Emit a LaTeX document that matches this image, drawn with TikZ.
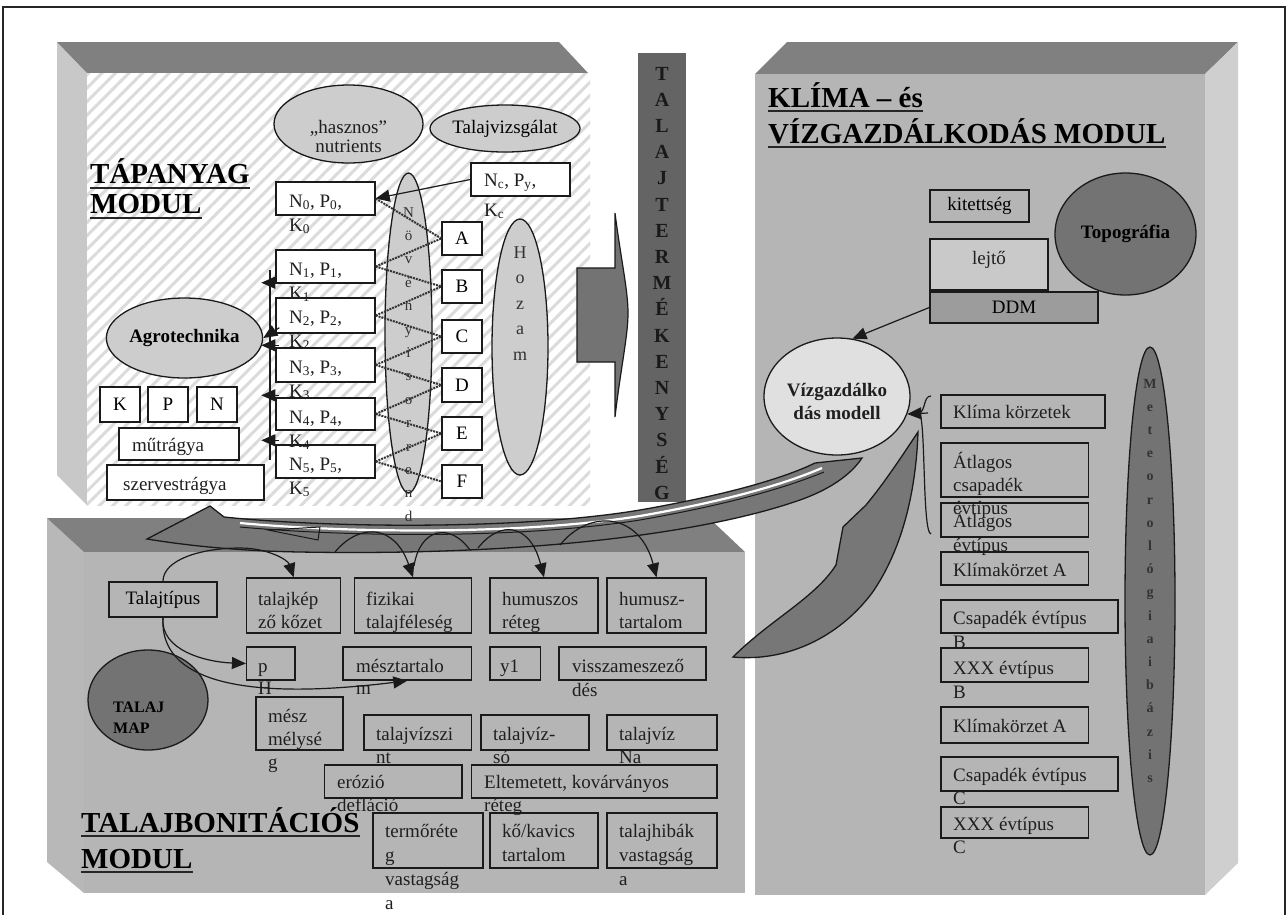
\documentclass[tikz,border=0pt]{standalone}
\usepackage{fontspec}
\setmainfont{Liberation Serif}
\usetikzlibrary{arrows.meta,calc,patterns.meta,shapes.geometric}

\definecolor{topc}{HTML}{808080}
\definecolor{sidec}{HTML}{C8C8C8}
\definecolor{rsidec}{HTML}{CFCFCF}
\definecolor{frontc}{HTML}{B5B5B5}
\definecolor{darkc}{HTML}{737373}
\definecolor{barc}{HTML}{646464}
\definecolor{ellc}{HTML}{CDCDCD}
\definecolor{linec}{HTML}{1A1A1A}
\definecolor{swc}{HTML}{777777}

\newcommand\mkbox[7][]{\node[rbox,#1,minimum width={#5-#3},minimum height={#6-#4}] (#2) at ({(#3+#5)/2},{(#4+#6)/2}) {#7};}
\newcommand\tx[4][]{\node[txt,#1] at (#2,#3) {#4};}

\begin{document}
\begin{tikzpicture}[x=1pt,y=-1pt,
  rbox/.style={draw=linec,line width=1.4pt,inner sep=0pt,font=\fontsize{19}{22}\selectfont},
  txt/.style={anchor=base west,inner sep=0pt,font=\fontsize{19}{22}\selectfont,text=black!88},
  ctx/.style={txt,anchor=base},
  btx/.style={ctx,font=\fontsize{19}{22}\selectfont\bfseries},
  ttl/.style={anchor=base west,inner sep=0pt,font=\fontsize{29}{34}\selectfont\bfseries},
  ell/.style={ellipse,draw=linec,line width=1.3pt,inner sep=0pt,font=\fontsize{19}{22}\selectfont},
  arr/.style={-{Triangle[length=14pt,width=12pt]},line width=1.2pt,draw=linec},
  dotl/.style={densely dotted,line width=2pt,draw=black!80},
  thinl/.style={line width=1.2pt,draw=linec},
  ulin/.style={line width=2.5pt,draw=black!85},
  lt/.style={anchor=base,inner sep=0pt,font=\fontsize{15}{15}\selectfont,text=black!80}
]
\useasboundingbox (0,0) rectangle (1288,914);
\fill[white] (0,0) rectangle (1288,914);

% outer frame
\draw[line width=2.5pt,black!85] (3,918) -- (3,7) -- (1285,7) -- (1285,918);

% ================= TAPANYAG MODULE (box) =================
\fill[sidec] (57,42) -- (87,73) -- (87,505) -- (57,475) -- cycle;
\fill[topc] (57,42) -- (559,42) -- (588,73) -- (87,73) -- cycle;
\fill[white] (87,73) rectangle (590,505);
\fill[pattern={Lines[angle=45,distance=9.5pt,line width=3pt]},pattern color=black!14] (87,73) rectangle (590,505);

% ================= TALAJBONITACIOS MODULE (box) =================
\fill[sidec!92!black] (47,518) -- (84,552) -- (84,893) -- (47,862) -- cycle;
\fill[topc] (47,518) -- (709,518) -- (745,552) -- (84,552) -- cycle;
\fill[frontc] (84,552) rectangle (745,893);

% ================= KLIMA MODULE (box) =================
\fill[topc] (787,42) -- (1238,42) -- (1205,74) -- (755,74) -- cycle;
\fill[rsidec] (1205,74) -- (1238,42) -- (1238,863) -- (1205,895) -- cycle;
\fill[frontc] (755,74) rectangle (1205,895);

% ================= TALAJTERMEKENYSEG bar =================
\node[fill=barc,minimum width=48,minimum height=449,inner sep=0pt] (bar) at (662,277.5) {};
\foreach \l [count=\i from 0] in {T,A,L,A,J,T,E,R,M,É,K,E,N,Y,S,É,G}
  \node[anchor=base,inner sep=0pt,font=\fontsize{20}{20}\selectfont\bfseries,text=black!90] at (662,{80+26.2*\i}) {\l};

% block arrow
\filldraw[fill=darkc,draw=linec,line width=1.2pt] (577,268) -- (615,268) -- (615,213)
  .. controls (621,260) and (628,290) .. (628,313)
  .. controls (628,336) and (621,366) .. (615,417) -- (615,362) -- (577,362) -- cycle;

% ================= TAPANYAG content =================
\node[ttl] (t1a) at (90,183) {TÁPANYAG};
\node[ttl] (t1b) at (90,213) {MODUL};
\draw[ulin] ($(t1a.base west)+(0,5)$) -- ($(t1a.base east)+(0,5)$);
\draw[ulin] ($(t1b.base west)+(0,5)$) -- ($(t1b.base east)+(0,5)$);

\node[ell,fill=ellc,minimum width=149,minimum height=78] (hasz) at (348.5,124) {};
\tx[ctx]{348.5}{133}{„hasznos”}
\tx[ctx]{348.5}{152}{nutrients}
\node[ell,fill=ellc,minimum width=150,minimum height=47] (tvizs) at (505,128.5) {Talajvizsgálat};

\mkbox[fill=white]{N0}{276}{182}{375}{215}{}
\mkbox[fill=white]{Nc}{471}{163}{570}{196}{}
\mkbox[fill=white]{N1}{276}{250}{375}{283}{}
\mkbox[fill=white]{N2}{276}{298}{375}{333}{}
\mkbox[fill=white]{N3}{276}{348}{375}{382}{}
\mkbox[fill=white]{N4}{276}{398}{375}{430}{}
\mkbox[fill=white]{N5}{276}{445}{375}{478}{}
\tx{289}{207}{N\textsubscript{0}, P\textsubscript{0},}
\tx{289}{231}{K\textsubscript{0}}
\tx{484}{186}{N\textsubscript{c}, P\textsubscript{y},}
\tx{484}{216}{K\textsubscript{c}}
\tx{289}{275}{N\textsubscript{1}, P\textsubscript{1},}
\tx{289}{299}{K\textsubscript{1}}
\tx{289}{323}{N\textsubscript{2}, P\textsubscript{2},}
\tx{289}{347}{K\textsubscript{2}}
\tx{289}{373}{N\textsubscript{3}, P\textsubscript{3},}
\tx{289}{397}{K\textsubscript{3}}
\tx{289}{423}{N\textsubscript{4}, P\textsubscript{4},}
\tx{289}{447}{K\textsubscript{4}}
\tx{289}{470}{N\textsubscript{5}, P\textsubscript{5},}
\tx{289}{494}{K\textsubscript{5}}

% Novenyi sorrend ellipse
\node[ell,fill=ellc,minimum width=47,minimum height=320] (novs) at (408.5,333) {};
\foreach \l [count=\i from 0] in {N,ö,v,é,n,y,i,s,o,r,r,e,n,d}
  \node[lt] at (408.5,{217+23.4*\i}) {\l};

% A-F boxes
\mkbox[fill=white]{A}{442}{222}{482}{255}{A}
\mkbox[fill=white]{B}{442}{270}{482}{303}{B}
\mkbox[fill=white]{C}{442}{320}{482}{353}{C}
\mkbox[fill=white]{D}{442}{368}{482}{402}{D}
\mkbox[fill=white]{E}{442}{417}{482}{450}{E}
\mkbox[fill=white]{F}{442}{465}{482}{498}{F}

% Hozam
\node[ell,fill=ellc,minimum width=56,minimum height=256] (hozam) at (520,347) {};
\foreach \l [count=\i from 0] in {H,o,z,a,m}
  \node[anchor=base,inner sep=0pt,font=\fontsize{18}{18}\selectfont,text=black!80] at (520,{258+25.5*\i}) {\l};

% connectors
\draw[arr] (Nc.west) -- (N0.east);
\foreach \a/\b in {N0/A,N1/A,N1/B,N2/B,N2/C,N3/C,N3/D,N4/D,N4/E,N5/E,N5/F}
  \draw[dotl] (\a.east) -- (\b.west);

% Agrotechnika
\node[ell,fill=ellc,minimum width=155,minimum height=80,font=\fontsize{19}{22}\selectfont\bfseries] (agro) at (184.5,338) {Agrotechnika};
\draw[thinl] (270,270) -- (270,460);
\draw[arr] ($(N1.south west)+(4,-1)$) -- ++(-18,0);
\draw[arr] ($(N2.south west)+(4,-6)$) -- (agro.east);
\draw[arr] ($(N3.north west)+(4,-2)$) -- ++(-18,0);
\draw[arr] ($(N4.north west)+(4,-2)$) -- ++(-18,0);
\draw[arr] ($(N5.north west)+(4,-4)$) -- ++(-18,0);

% K P N, mutragya, szervestragya
\mkbox[fill=white]{bK}{100}{387}{140}{422}{K}
\mkbox[fill=white]{bP}{148}{387}{188}{422}{P}
\mkbox[fill=white]{bN}{197}{387}{237}{422}{N}
\mkbox[fill=white]{mut}{119}{428}{239}{460}{}
\tx{132}{451}{műtrágya}
\mkbox[fill=white]{szerv}{107}{465}{264}{500}{}
\tx{123}{490}{szervestrágya}

% ================= KLIMA content =================
\node[ttl] (t3a) at (768,107) {KLÍMA – és};
\node[ttl] (t3b) at (768,143) {VÍZGAZDÁLKODÁS MODUL};
\draw[ulin] ($(t3a.base west)+(0,4)$) -- ($(t3a.base east)+(0,4)$);
\draw[ulin] ($(t3b.base west)+(0,4)$) -- ($(t3b.base east)+(0,4)$);

\mkbox{kit}{930}{190}{1029}{222}{kitettség}
\mkbox[fill=black!21]{lejto}{930}{239}{1048}{290}{}
\tx[ctx]{989}{264}{lejtő}
\mkbox[fill=black!39]{DDM}{930}{292}{1098}{323}{DDM}
\node[ell,fill=darkc,minimum width=141,minimum height=122,font=\fontsize{19}{22}\selectfont\bfseries] (topo) at (1125.5,234) {Topográfia};

\node[ell,fill=black!12,minimum width=146,minimum height=117] (viz) at (837,396.5) {};
\tx[btx]{837}{396}{Vízgazdálko}
\tx[btx]{837}{419}{dás modell}
\draw[arr] (DDM.west) -- (viz.75);

% brace
\draw[thinl] (931,396) .. controls (923,396) and (926,411) .. (919,413)
  .. controls (926,416) and (922,533) .. (931,534);
\coordinate (bt) at (928,413);
\draw[arr] (bt) -- (viz.-14);

\mkbox{kk}{941}{395}{1105}{428}{}
\tx{953}{418}{Klíma körzetek}
\mkbox{ac}{941}{443}{1088.5}{497}{}
\tx{953}{468}{Átlagos}
\tx{953}{491}{csapadék}
\tx{953}{514}{évtípus}
\mkbox{ae}{941}{503}{1088.5}{537}{}
\tx{953}{527}{Átlagos}
\tx{953}{551}{évtípus}
\mkbox{ka1}{941}{552}{1088.5}{585}{}
\tx{953}{576}{Klímakörzet A}
\mkbox{cb}{941}{600}{1118}{633}{}
\tx{953}{624}{Csapadék évtípus}
\tx{953}{648}{B}
\mkbox{xb}{941}{648}{1088.5}{682}{}
\tx{953}{674}{XXX évtípus}
\tx{953}{698}{B}
\mkbox{ka2}{941}{707}{1088.5}{743}{}
\tx{953}{732}{Klímakörzet A}
\mkbox{cc}{941}{757}{1118}{791}{}
\tx{953}{781}{Csapadék évtípus}
\tx{953}{804}{C}
\mkbox{xc}{941}{807}{1088.5}{838}{}
\tx{953}{830}{XXX évtípus}
\tx{953}{853}{C}

\node[ell,fill=darkc,minimum width=50,minimum height=508] (met) at (1150,601) {};
\foreach \l [count=\i from 0] in {M,e,t,e,o,r,o,l,ó,g,i,a,i,b,á,z,i,s}
  \node[anchor=base,inner sep=0pt,font=\fontsize{14}{14}\selectfont\bfseries,text=black!80] at (1150,{388+23.2*\i}) {\l};

% ================= TALAJBONITACIOS content =================
\node[ttl] (t2a) at (81,832) {TALAJBONITÁCIÓS};
\node[ttl] (t2b) at (81,868) {MODUL};
\draw[ulin] ($(t2a.base west)+(0,4)$) -- ($(t2a.base east)+(0,4)$);
\draw[ulin] ($(t2b.base west)+(0,4)$) -- ($(t2b.base east)+(0,4)$);

\mkbox{tt}{109}{582}{217}{617}{Talajtípus}
\mkbox{tk}{246.6}{578}{340.7}{633}{}
\tx{258}{605}{talajkép}
\tx{258}{628}{ző kőzet}
\mkbox{fiz}{354.5}{578}{471.6}{633}{}
\tx{366}{605}{fizikai}
\tx{366}{628}{talajféleség}
\mkbox{hum}{490}{578}{598}{633}{}
\tx{502}{605}{humuszos}
\tx{502}{628}{réteg}
\mkbox{humt}{607}{578}{706}{633}{}
\tx{619}{605}{humusz-}
\tx{619}{628}{tartalom}

\mkbox{pH}{246.6}{647}{294.8}{680}{}
\tx{258}{672}{p}
\tx{258}{694}{H}
\mkbox{mesz}{343}{647}{471.6}{680}{}
\tx{356}{672}{mésztartalo}
\tx{356}{694}{m}
\mkbox{y1}{490}{647}{540.5}{680}{}
\tx{500}{672}{y1}
\mkbox{vissza}{559}{647}{706}{680}{}
\tx{572}{672}{visszameszező}
\tx{572}{696}{dés}

\node[ell,fill=darkc,minimum width=120,minimum height=100] (tmap) at (148,700) {};
\node[anchor=base west,inner sep=0pt,font=\fontsize{16}{16}\selectfont\bfseries] at (113,712) {TALAJ};
\node[anchor=base west,inner sep=0pt,font=\fontsize{16}{16}\selectfont\bfseries] at (113,733) {MAP};

\mkbox{meszm}{256}{697}{343}{750}{}
\tx{268}{722}{mész}
\tx{268}{745}{mélysé}
\tx{268}{768}{g}
\mkbox{tvsz}{364}{715}{471.6}{750}{}
\tx{376}{740}{talajvízszi}
\tx{376}{763}{nt}
\mkbox{tvso}{481}{715}{589}{750}{}
\tx{493}{740}{talajvíz-}
\tx{493}{763}{só}
\mkbox{tvna}{607}{715}{717}{750}{}
\tx{619}{740}{talajvíz}
\tx{619}{763}{Na}

\mkbox{eroz}{324.7}{765}{462}{798}{}
\tx{337}{788}{erózió}
\tx{337}{811}{defláció}
\mkbox{eltem}{471.6}{765}{717}{798}{}
\tx{484}{788}{Eltemetett, kovárványos}
\tx{484}{811}{réteg}

\mkbox{termo}{373}{813}{483}{868}{}
\tx{385}{837}{termőréte}
\tx{385}{861}{g}
\tx{385}{885}{vastagság}
\tx{385}{909}{a}
\mkbox{kokav}{490}{813}{598}{868}{}
\tx{502}{837}{kő/kavics}
\tx{502}{861}{tartalom}
\mkbox{hiba}{607}{813}{717}{868}{}
\tx{619}{837}{talajhibák}
\tx{619}{861}{vastagság}
\tx{619}{885}{a}

% connectors from Talajtipus
\draw[arr] (tt.south) .. controls (160,650) and (205,662) .. (pH.west);
\draw[arr] (tt.south) .. controls (158,700) and (300,694) .. (mesz.south);

% ================= big swooshes =================
\filldraw[fill=swc,draw=linec,line width=1.3pt]
  (147,539) -- (210,506) -- (224,517)
  .. controls (330,528) and (520,530) .. (640,510)
  .. controls (720,496) and (780,480) .. (815,463)
  -- (862,458)
  .. controls (850,476) and (828,490) .. (800,500)
  .. controls (700,535) and (520,556) .. (300,552)
  .. controls (240,551) and (190,546) .. (147,539) -- cycle;
\draw[white,line width=2.2pt] (240,523) .. controls (350,533) and (520,535) .. (640,516)
  .. controls (720,502) and (780,486) .. (822,468);
\draw[linec,line width=1pt] (240,527) .. controls (350,537) and (520,539) .. (640,520)
  .. controls (720,506) and (780,490) .. (824,472);
\draw[linec,line width=1pt] (268,530) -- (320,527) -- (318,540) -- cycle;

\filldraw[fill=swc,draw=linec,line width=1.3pt]
  (733,657) .. controls (770,620) and (815,598) .. (836,565)
  -- (843,527) -- (866,505)
  .. controls (885,482) and (902,456) .. (918,432)
  .. controls (916,492) and (902,550) .. (872,593)
  .. controls (838,638) and (786,662) .. (733,657) -- cycle;

% arcs into the soil boxes
\draw[arr] (tt.north) .. controls (163,560) and (200,548) .. (240,548)
  .. controls (268,548) and (288,560) .. (tk.north);
\draw[arr] (335,552) .. controls (360,522) and (395,525) .. (fiz.north);
\draw[thinl] (470,550) .. controls (450,522) and (420,528) .. (414,566);
\draw[arr] (478,548) .. controls (500,520) and (530,523) .. (hum.north);
\draw[arr] (560,545) .. controls (590,508) and (640,513) .. (humt.north);

\end{tikzpicture}
\end{document}
